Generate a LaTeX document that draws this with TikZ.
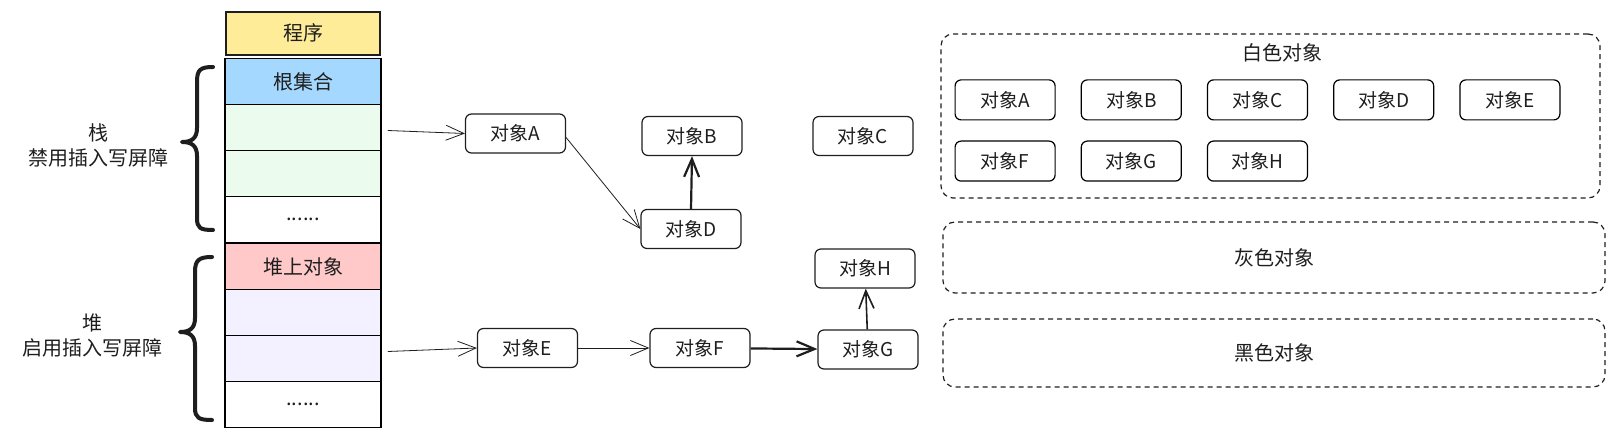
\documentclass[tikz,border=0pt]{standalone}
\usepackage{fontspec}
\setmainfont{Noto Sans CJK SC}
\usepackage{tikz}
\usetikzlibrary{positioning}
\usetikzlibrary{matrix}
\usetikzlibrary{arrows.meta}
\definecolor{ink}{HTML}{1E1E1E}
\definecolor{progyellow}{HTML}{FFEC99}
\definecolor{rootblue}{HTML}{A5D8FF}
\definecolor{stackgreen}{HTML}{EBFBEE}
\definecolor{heapred}{HTML}{FFC9C9}
\definecolor{heapviolet}{HTML}{F3F0FF}

\begin{document}
\begin{tikzpicture}[x=1pt,y=1pt,color=ink,
bigfont/.style={font=\fontsize{20}{25}\selectfont},
objfont/.style={font=\fontsize{19}{22}\selectfont},
stackcol/.style={matrix of nodes,inner sep=0pt,nodes={draw,line width=1.5pt,minimum width=156pt,minimum height=46pt,inner sep=0pt,bigfont},row sep=-1.5pt,nodes in empty cells},
obj/.style={draw,rounded corners=6pt,line width=1.2pt,minimum width=100pt,minimum height=39pt,inner sep=0pt,objfont},
whiteset/.style={matrix of nodes,inner sep=0pt,column sep=25pt,row sep=20pt,nodes={obj,minimum height=40pt}},
setbox/.style={draw,dash pattern=on 5pt off 4pt,rounded corners=12pt,line width=1.2pt,inner sep=0pt,bigfont},
link/.style={-{Straight Barb[length=18pt,width=15pt]},line width=0.8pt},
midlink/.style={-{Straight Barb[length=18pt,width=15pt]},line width=1.6pt},
boldlink/.style={-{Straight Barb[length=18pt,width=15pt]},line width=2.2pt},
curly/.style={line width=4pt,line cap=round,line join=round}]
\useasboundingbox (0,0) rectangle (1624,-430);

% stack and heap
\matrix[stackcol,row 1/.style={nodes={fill=rootblue}},row 2/.style={nodes={fill=stackgreen}},row 3/.style={nodes={fill=stackgreen}}] (stack) at (303,-150.5) {
根集合\\
\\
\\
......\\};
\node[draw,fill=progyellow,line width=1.5pt,minimum width=154pt,minimum height=43pt,inner sep=0pt,bigfont,above=2pt of stack] (prog) {程序};
\matrix[stackcol,row 1/.style={nodes={fill=heapred}},row 2/.style={nodes={fill=heapviolet}},row 3/.style={nodes={fill=heapviolet}}] (heap) at (303,-335.5) {
堆上对象\\
\\
\\
......\\};

% braces
\draw[curly] (213,-67) .. controls (200,-67) and (197,-70) .. (197,-82) -- (197,-128) .. controls (197,-138) and (192,-142) .. (182,-142) .. controls (192,-142) and (197,-146) .. (197,-156) -- (197,-218) .. controls (197,-228) and (200,-230) .. (213,-230);
\draw[curly] (212,-257) .. controls (199,-257) and (195,-260) .. (195,-272) -- (195,-318) .. controls (195,-328) and (190,-332) .. (180,-332) .. controls (190,-332) and (195,-336) .. (195,-346) -- (195,-408) .. controls (195,-418) and (199,-420) .. (212,-420);
\node[bigfont,align=center] (stacklabel) at (98,-145.5) {栈\\禁用插入写屏障};
\node[bigfont,align=center] (heaplabel) at (92,-335.5) {堆\\启用插入写屏障};

% objects
\node[obj] (objA) at (515.5,-133.5) {对象A};
\node[obj] (objB) at (692,-136) {对象B};
\node[obj] (objC) at (863,-136) {对象C};
\node[obj] (objD) at (691,-229) {对象D};
\node[obj] (objH) at (865,-268.5) {对象H};
\node[obj] (objE) at (527.5,-348) {对象E};
\node[obj] (objF) at (700,-348) {对象F};
\node[obj] (objG) at (868,-349.5) {对象G};

\draw[link] ([xshift=6pt,yshift=-3pt]stack-2-1.east) -- (objA.west);
\draw[link] ([yshift=-4pt]objA.east) -- (objD.west);
\draw[boldlink] (objD.north) -- (objB.south);
\draw[link] ([xshift=6pt,yshift=7pt]heap-3-1.east) -- (objE.west);
\draw[link] (objE) -- (objF);
\draw[boldlink] (objF) -- (objG);
\draw[midlink] (objG) -- (objH);

% colour sets
\node[setbox,minimum width=659pt,minimum height=164pt] (whitebox) at (1270.5,-116) {};
\node[bigfont] (whitelabel) at (1282.5,-53) {白色对象};
\matrix[whiteset] (white) at (1257.5,-130.5) {
对象A & 对象B & 对象C & 对象D & 对象E\\
对象F & 对象G & 对象H\\};
\node[setbox,minimum width=662pt,minimum height=71pt] (graybox) at (1274,-257.5) {灰色对象};
\node[setbox,minimum width=662pt,minimum height=68pt] (blackbox) at (1274,-353) {黑色对象};
\end{tikzpicture}
\end{document}
